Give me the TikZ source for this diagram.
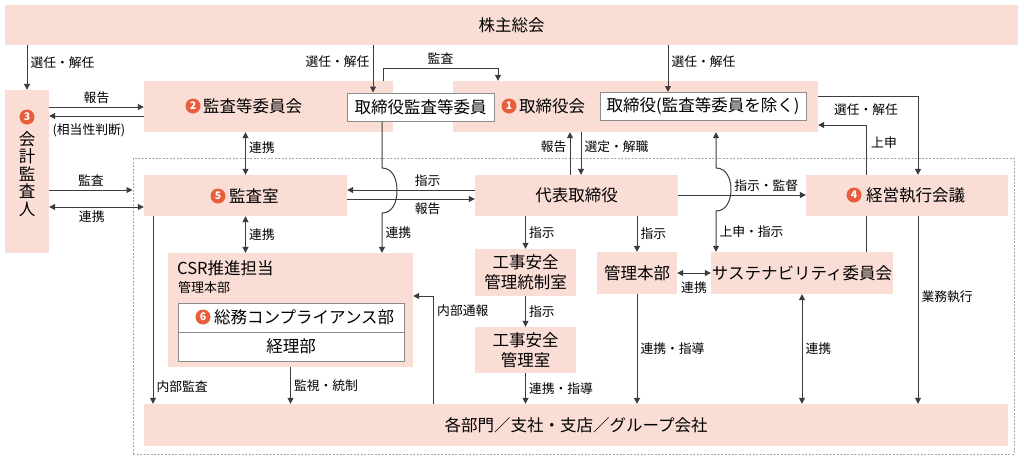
\documentclass[tikz,border=0pt]{standalone}
\usepackage{fontspec}
\setmainfont{Noto Sans CJK JP}
\usetikzlibrary{arrows.meta}
\definecolor{boxpink}{RGB}{250,222,214}
\definecolor{numred}{RGB}{232,93,60}
\definecolor{linegray}{RGB}{60,60,60}

\begin{document}
\begin{tikzpicture}[x=1pt,y=-1pt]

\tikzstyle{box} = [rectangle, fill=boxpink, inner sep=0pt, font=\fontsize{16.5}{20}\selectfont]
\tikzstyle{wbox} = [rectangle, fill=white, draw=black!45, line width=1pt, inner sep=0pt, font=\fontsize{16.5}{20}\selectfont]
\tikzstyle{boxtext} = [inner sep=0pt, font=\fontsize{16.5}{17.5}\selectfont]
\tikzstyle{num} = [circle, fill=numred, text=white, inner sep=0pt, minimum size=15, font=\fontsize{10.5}{10.5}\selectfont\bfseries]
\tikzstyle{lbl} = [inner sep=3pt, font=\fontsize{12.8}{14}\selectfont]
\tikzstyle{conn} = [draw=linegray, line width=1pt]
\tikzstyle{arr} = [conn, -{Triangle[length=6pt,width=6pt]}]
\tikzstyle{darr} = [conn, {Triangle[length=6pt,width=6pt]}-{Triangle[length=6pt,width=6pt]}]
\tikzstyle{waku} = [rectangle, draw=black!35, dash pattern=on 2pt off 1.5pt, line width=1pt, inner sep=0pt]

\useasboundingbox (0,0) rectangle (1024,464);

\node[waku, minimum width=881, minimum height=296] (waku) at (573.5,306) {};

\node[box, minimum width=1013, minimum height=40] (soukai) at (511.5,25) {株主総会};

\node[box, minimum width=44, minimum height=163] (kaikei) at (27,171.5) {};
\node[num] (n3) at (27,117) {3};
\node[boxtext, align=center] (kaikeitxt) at (27,174) {会\\計\\監\\査\\人};

\node[box, minimum width=249, minimum height=51] (kansatou) at (268.5,106.5) {};
\node[num] (n2) at (193,106) {2};
\node[boxtext, anchor=west] (kansatoutxt) at (203,106) {監査等委員会};

\node[box, minimum width=365, minimum height=51] (torikai) at (635.5,106.5) {};
\node[num] (n1) at (509,106) {1};
\node[boxtext, anchor=west] (torikaitxt) at (519,106) {取締役会};

\node[wbox, minimum width=147, minimum height=28] (torikan) at (420.5,107) {取締役監査等委員};
\node[wbox, minimum width=206, minimum height=28] (torinozoku) at (703,106.5) {取締役(監査等委員を除く)};

\node[box, minimum width=203, minimum height=41] (kansashitsu) at (245.5,195.5) {};
\node[num] (n5) at (218,196) {5};
\node[boxtext, anchor=west] (kansashitsutxt) at (229,196) {監査室};

\node[box, minimum width=203, minimum height=41] (daihyo) at (576.5,195.5) {代表取締役};

\node[box, minimum width=202, minimum height=41] (keiei) at (907,195.5) {};
\node[num] (n4) at (854,195) {4};
\node[boxtext, anchor=west] (keieitxt) at (866,195) {経営執行会議};

\node[box, minimum width=245, minimum height=114] (csr) at (290.5,310) {};
\node[boxtext, anchor=west] (csrtxt) at (177,268) {CSR推進担当};
\node[boxtext, anchor=west, font=\fontsize{13}{15}\selectfont] (csrsub) at (178,288) {管理本部};
\node[wbox, minimum width=226, minimum height=29] (soumu) at (291,317.5) {};
\node[num] (n6) at (203,317) {6};
\node[boxtext, anchor=west] (soumutxt) at (214,317) {総務コンプライアンス部};
\node[wbox, minimum width=226, minimum height=29] (keiri) at (291,346.5) {経理部};

\node[box, minimum width=101, minimum height=47, align=center] (kouji1) at (525.5,272.5) {工事安全\\管理統制室};
\node[box, minimum width=101, minimum height=46, align=center] (kouji2) at (525.5,350) {工事安全\\管理室};
\node[box, minimum width=80, minimum height=42] (kanri) at (637,273) {管理本部};
\node[box, minimum width=182, minimum height=42] (sustain) at (802,273) {サステナビリティ委員会};

\node[box, minimum width=864, minimum height=42] (kakubu) at (576,425) {各部門／支社・支店／グループ会社};

\draw[arr] (kaikei.north |- soukai.south) -- node[lbl, right, pos=0.38] (l1) {選任・解任} (kaikei.north);
\draw[arr] (373,0 |- soukai.south) -- node[lbl, left, pos=0.35] (l2) {選任・解任} (373,0 |- torikan.north);
\draw[arr] (383,0 |- kansatou.north) -- (383,68) -- node[lbl, above] (l3) {監査} (498,68) -- (498,0 |- torikai.north);
\draw[arr] (668,0 |- soukai.south) -- node[lbl, right, pos=0.35] (l4) {選任・解任} (668,0 |- torinozoku.north);
\draw[arr] (kaikei.east |- 0,107) -- node[lbl, above] (l5) {報告} (kansatou.west |- 0,107);
\draw[arr] (kansatou.west |- 0,116) -- node[lbl, below=4pt, pos=0.58] (l6) {(相当性判断)} (kaikei.east |- 0,116);
\draw[darr] (kansashitsu.north |- kansatou.south) -- node[lbl, right, pos=0.37] (l7) {連携} (kansashitsu.north);
\draw[arr] (382,0 |- torikan.south) -- (382,168) .. controls (392,168) and (397,178) .. (397,190.5) .. controls (397,203) and (392,213) .. (382,213) -- node[lbl, right] (l8) {連携} (382,0 |- csr.north);
\draw[arr] (daihyo.west |- 0,190) -- node[lbl, above, pos=0.37] (l9) {指示} (kansashitsu.east |- 0,190);
\draw[arr] (kansashitsu.east |- 0,199) -- node[lbl, below, pos=0.63] (l10) {報告} (daihyo.west |- 0,199);
\draw[arr] (kaikei.east |- 0,190) -- node[lbl, above] (l11) {監査} (waku.west |- 0,190);
\draw[darr] (kaikei.east |- 0,207) -- node[lbl, below, pos=0.45] (l12) {連携} (kansashitsu.west |- 0,207);
\draw[arr] (570,0 |- daihyo.north) -- node[lbl, left, pos=0.65] (l13) {報告} (570,0 |- torikai.south);
\draw[arr] (581,0 |- torikai.south) -- node[lbl, right, pos=0.35] (l14) {選定・解職} (581,0 |- daihyo.north);
\draw[arr] (daihyo.east |- 0,195) -- node[lbl, above, pos=0.69] (l15) {指示・監督} (keiei.west |- 0,195);
\draw[darr] (716,0 |- torikai.south) -- (716,168) .. controls (726,168) and (731,178) .. (731,189.5) .. controls (731,201) and (726,211) .. (716,211) -- node[lbl, right] (l16) {上申・指示} (716,0 |- sustain.north);
\draw[arr] (torikai.east |- 0,96) -- (918,96) -- (918,0 |- keiei.north);
\node[lbl] (l17) at (866,110) {選任・解任};
\draw[arr] (866,0 |- keiei.north) -- (866,125) -- (torikai.east |- 0,125);
\node[lbl, anchor=west] (l18) at (868,143) {上申};
\draw[conn] (866,0 |- sustain.north) -- (866,0 |- keiei.south);
\draw[arr] (918,0 |- keiei.south) -- node[lbl, right, pos=0.43] (l20) {業務執行} (918,0 |- kakubu.north);
\draw[arr] (kouji1.north |- daihyo.south) -- node[lbl, right] (l21) {指示} (kouji1.north);
\draw[arr] (kanri.north |- daihyo.south) -- node[lbl, right] (l22) {指示} (kanri.north);
\draw[darr] (kanri.east) -- node[lbl, below=5pt] (l23) {連携} (sustain.west);
\draw[arr] (kouji1.south) -- node[lbl, right] (l24) {指示} (kouji2.north);
\draw[arr] (kouji2.south) -- node[lbl, right] (l25) {連携・指導} (kouji2.south |- kakubu.north);
\draw[arr] (kanri.south) -- node[lbl, right] (l26) {連携・指導} (kanri.south |- kakubu.north);
\draw[darr] (sustain.south) -- node[lbl, right] (l27) {連携} (sustain.south |- kakubu.north);
\draw[arr] (153,0 |- kansashitsu.south) -- node[lbl, right, pos=0.91] (l28) {内部監査} (153,0 |- kakubu.north);
\draw[arr] (csr.south) -- node[lbl, right] (l29) {監視・統制} (csr.south |- kakubu.north);
\draw[arr] (433,0 |- kakubu.north) -- (433,296) -- (csr.east |- 0,296);
\node[lbl, anchor=west] (l30) at (434,311) {内部通報};
\draw[darr] (kansashitsu.south) -- node[lbl, right] (l31) {連携} (kansashitsu.south |- csr.north);

\end{tikzpicture}
\end{document}
